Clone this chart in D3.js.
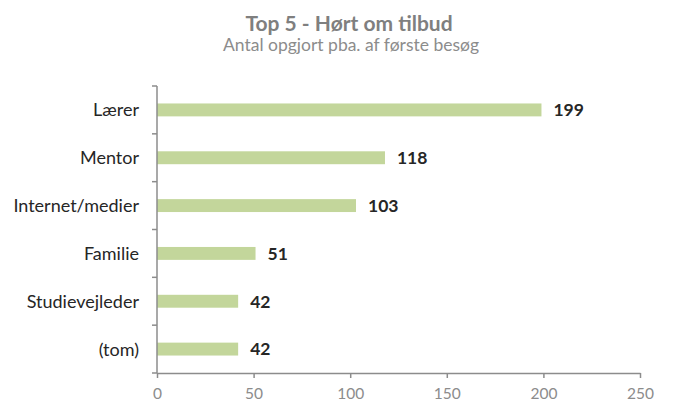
<!DOCTYPE html>
<html lang="da">
<head>
<meta charset="UTF-8">
<title>Top 5 - Hørt om tilbud</title>
<script src="https://d3js.org/d3.v7.min.js"></script>
<style>
  body { margin: 0; background: #fff; }
  text { font-family: Lato, "Open Sans", sans-serif; }
</style>
</head>
<body>
<svg id="chart"></svg>
<script>
  // chart data
  var categories = ["Lærer", "Mentor", "Internet/medier", "Familie", "Studievejleder", "(tom)"];
  var values = [199, 118, 103, 51, 42, 42];
  var xTicks = [0, 50, 100, 150, 200, 250];

  var width = 692, height = 419;
  var plotLeft = 157, plotRight = 640, plotTop = 86, plotBottom = 373;

  var svg = d3.select("#chart")
    .attr("width", width)
    .attr("height", height);

  var x = d3.scaleLinear().domain([0, 250]).range([plotLeft, plotRight]);
  var y = d3.scaleBand().domain(categories).range([plotTop, plotBottom]).paddingInner(0.73).paddingOuter(0.365);

  // title
  svg.append("text")
    .attr("x", 349).attr("y", 31)
    .attr("text-anchor", "middle")
    .attr("font-size", 21).attr("font-weight", "bold")
    .attr("fill", "#7f7f7f")
    .text("Top 5 - Hørt om tilbud");
  svg.append("text")
    .attr("x", 351).attr("y", 51)
    .attr("text-anchor", "middle")
    .attr("font-size", 17.5)
    .attr("fill", "#8c8c8c")
    .text("Antal opgjort pba. af første besøg");

  // bars
  svg.selectAll("rect.bar")
    .data(values)
    .enter()
    .append("rect")
    .attr("class", "bar")
    .attr("x", x(0))
    .attr("y", function(d, i) { return y(categories[i]); })
    .attr("width", function(d) { return x(d) - x(0); })
    .attr("height", y.bandwidth())
    .attr("fill", "#c3d69b");

  // value labels
  svg.selectAll("text.val")
    .data(values)
    .enter()
    .append("text")
    .attr("class", "val")
    .attr("x", function(d) { return x(d) + 12; })
    .attr("y", function(d, i) { return y(categories[i]) + y.bandwidth() / 2; })
    .attr("dy", "0.36em")
    .attr("font-size", 17.5).attr("font-weight", "bold")
    .attr("fill", "#262626")
    .text(function(d) { return d; });

  // y axis: line, ticks at band boundaries, labels
  var yAxis = svg.append("g");
  yAxis.append("line")
    .attr("x1", plotLeft).attr("x2", plotLeft)
    .attr("y1", plotTop).attr("y2", plotBottom)
    .attr("stroke", "#8c8c8c").attr("stroke-width", 1.5);
  var step = (plotBottom - plotTop) / categories.length;
  d3.range(categories.length + 1).forEach(function(i) {
    yAxis.append("line")
      .attr("x1", plotLeft - 5).attr("x2", plotLeft)
      .attr("y1", plotTop + i * step).attr("y2", plotTop + i * step)
      .attr("stroke", "#8c8c8c").attr("stroke-width", 1.5);
  });
  yAxis.selectAll("text")
    .data(categories)
    .enter()
    .append("text")
    .attr("x", 139)
    .attr("y", function(d) { return y(d) + y.bandwidth() / 2; })
    .attr("dy", "0.36em")
    .attr("text-anchor", "end")
    .attr("font-size", 18)
    .attr("fill", "#262626")
    .text(function(d) { return d; });

  // x axis
  var xAxis = svg.append("g")
    .attr("transform", "translate(0," + plotBottom + ")")
    .call(d3.axisBottom(x).tickValues(xTicks).tickSize(5).tickSizeOuter(0));
  xAxis.select(".domain").attr("stroke", "#8c8c8c").attr("stroke-width", 1.5);
  xAxis.selectAll(".tick line").attr("stroke", "#8c8c8c").attr("stroke-width", 1.5);
  xAxis.selectAll(".tick text")
    .attr("font-family", "Lato, 'Open Sans', sans-serif")
    .attr("font-size", 15.5)
    .attr("fill", "#8c8c8c")
    .attr("y", 0)
    .attr("dy", "1.65em");
</script>
</body>
</html>
